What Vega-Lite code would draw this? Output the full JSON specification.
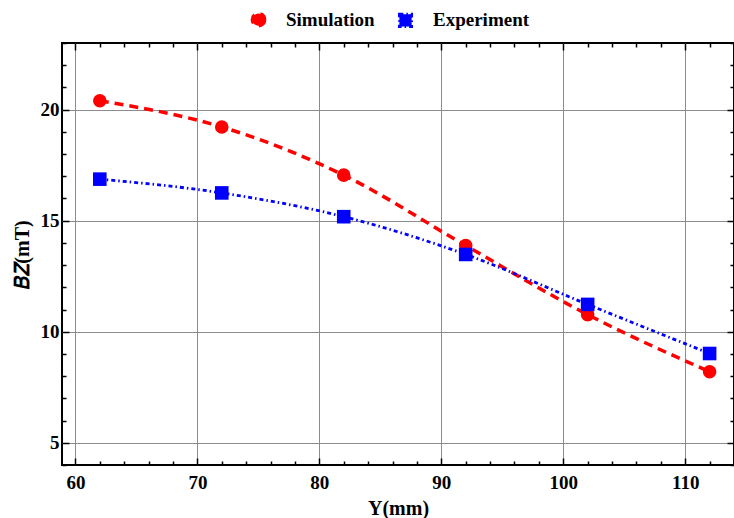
{
  "$schema": "https://vega.github.io/schema/vega-lite/v6.json",
  "width": 672,
  "height": 422,
  "autosize": {"type": "none"},
  "padding": {"left": 62, "top": 43, "right": 0, "bottom": 53},
  "background": "white",
  "config": {
    "view": {"stroke": "black", "strokeWidth": 2},
    "axis": {
      "domain": false,
      "labelFont": "Liberation Serif",
      "labelFontSize": 19,
      "labelFontWeight": "bold",
      "labelColor": "black",
      "titleFont": "Liberation Serif",
      "titleFontSize": 20,
      "titleFontWeight": "bold",
      "titleColor": "black",
      "tickColor": "black",
      "tickWidth": 1.5,
      "gridColor": "#8c8c8c",
      "gridWidth": 1
    }
  },
  "data": {
    "values": [
      {"Y": 62, "B": 20.4, "series": "Simulation"},
      {"Y": 72, "B": 19.22, "series": "Simulation"},
      {"Y": 82, "B": 17.05, "series": "Simulation"},
      {"Y": 92, "B": 13.88, "series": "Simulation"},
      {"Y": 102, "B": 10.77, "series": "Simulation"},
      {"Y": 112, "B": 8.2, "series": "Simulation"},
      {"Y": 62, "B": 16.87, "series": "Experiment"},
      {"Y": 72, "B": 16.25, "series": "Experiment"},
      {"Y": 82, "B": 15.18, "series": "Experiment"},
      {"Y": 92, "B": 13.48, "series": "Experiment"},
      {"Y": 102, "B": 11.23, "series": "Experiment"},
      {"Y": 112, "B": 9.02, "series": "Experiment"}
    ]
  },
  "encoding": {
    "color": {
      "field": "series", "type": "nominal",
      "scale": {"domain": ["Simulation", "Experiment"], "range": ["#ff0000", "#0000ff"]},
      "legend": {
        "orient": "none",
        "legendX": 187,
        "legendY": -33,
        "direction": "horizontal",
        "title": null,
        "labelFont": "Liberation Serif",
        "labelFontSize": 19,
        "labelFontWeight": "bold",
        "labelColor": "black",
        "symbolSize": 150,
        "symbolStrokeWidth": 0,
        "symbolOpacity": 1,
        "labelOffset": 18,
        "columnPadding": 18
      }
    }
  },
  "layer": [
    {
      "mark": {"type": "line", "interpolate": "monotone"},
      "encoding": {
        "x": {
          "field": "Y", "type": "quantitative",
          "scale": {"domain": [58.9, 114], "nice": false, "zero": false},
          "axis": {
            "orient": "bottom",
            "title": "Y(mm)",
            "titlePadding": 6,
            "values": [60, 62, 64, 66, 68, 70, 72, 74, 76, 78, 80, 82, 84, 86, 88, 90, 92, 94, 96, 98, 100, 102, 104, 106, 108, 110, 112],
            "labelExpr": "datum.value % 10 === 0 ? datum.label : ''",
            "grid": true,
            "gridOpacity": {"condition": {"test": "datum.value % 10 === 0", "value": 1}, "value": 0},
            "tickSize": {"condition": {"test": "datum.value % 10 === 0", "value": -7}, "value": -4},
            "labelPadding": 15
          }
        },
        "y": {
          "field": "B", "type": "quantitative",
          "scale": {"domain": [4, 23], "nice": false, "zero": false},
          "axis": {
            "orient": "left",
            "title": "𝐵𝑍(mT)",
            "titlePadding": 8,
            "values": [4, 5, 6, 7, 8, 9, 10, 11, 12, 13, 14, 15, 16, 17, 18, 19, 20, 21, 22, 23],
            "labelExpr": "datum.value % 5 === 0 ? datum.label : ''",
            "grid": true,
            "gridOpacity": {"condition": {"test": "datum.value % 5 === 0", "value": 1}, "value": 0},
            "tickSize": {"condition": {"test": "datum.value % 5 === 0", "value": -7}, "value": -4},
            "labelPadding": 10
          }
        },
        "strokeDash": {
          "field": "series", "type": "nominal",
          "scale": {"domain": ["Simulation", "Experiment"], "range": [[9, 6], [4, 3, 1.5, 3]]},
          "legend": null
        },
        "strokeWidth": {
          "field": "series", "type": "nominal",
          "scale": {"domain": ["Simulation", "Experiment"], "range": [3.5, 2.8]},
          "legend": null
        }
      }
    },
    {
      "mark": {"type": "point", "filled": true, "opacity": 1},
      "encoding": {
        "x": {
          "field": "Y", "type": "quantitative",
          "scale": {"domain": [58.9, 114], "nice": false, "zero": false},
          "axis": {
            "orient": "top",
            "title": null,
            "labels": false,
            "grid": false,
            "values": [60, 62, 64, 66, 68, 70, 72, 74, 76, 78, 80, 82, 84, 86, 88, 90, 92, 94, 96, 98, 100, 102, 104, 106, 108, 110, 112],
            "tickSize": {"condition": {"test": "datum.value % 10 === 0", "value": -7}, "value": -4}
          }
        },
        "y": {
          "field": "B", "type": "quantitative",
          "scale": {"domain": [4, 23], "nice": false, "zero": false},
          "axis": {
            "orient": "right",
            "title": null,
            "labels": false,
            "grid": false,
            "values": [4, 5, 6, 7, 8, 9, 10, 11, 12, 13, 14, 15, 16, 17, 18, 19, 20, 21, 22, 23],
            "tickSize": {"condition": {"test": "datum.value % 5 === 0", "value": -7}, "value": -4}
          }
        },
        "shape": {
          "field": "series", "type": "nominal",
          "scale": {"domain": ["Simulation", "Experiment"], "range": ["circle", "square"]},
          "legend": null
        },
        "size": {"value": 185}
      }
    }
  ],
  "resolve": {"axis": {"x": "independent", "y": "independent"}}
}
